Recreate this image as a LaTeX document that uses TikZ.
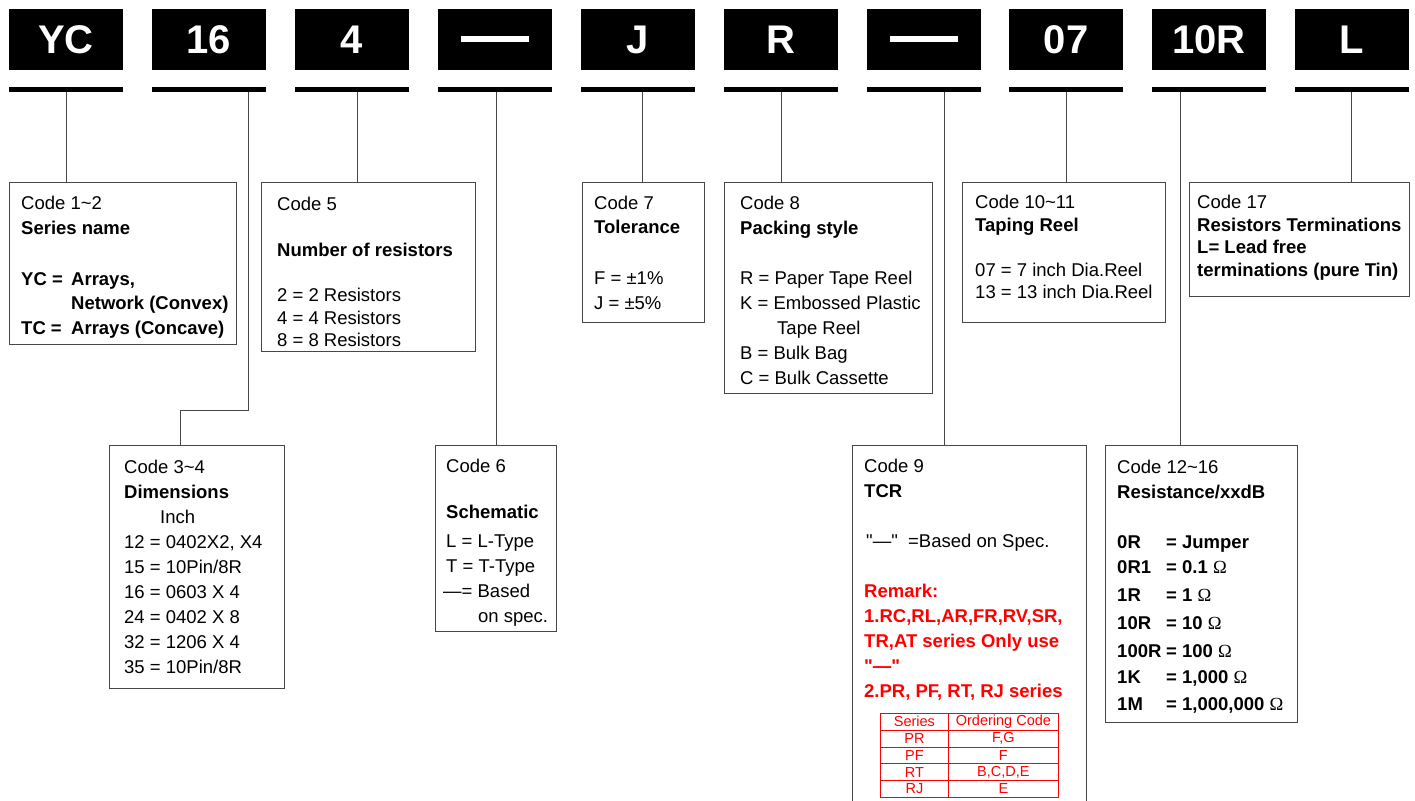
\documentclass[tikz,border=0pt]{standalone}
\usepackage{fontspec}
\setmainfont{Liberation Sans}[Ligatures=TeXOff]
\newfontfamily\omegafont{Liberation Serif}
\newcommand\ohm{{\omegafont\mdseries Ω}}
\newcommand\sq{"}
\begin{document}
\begin{tikzpicture}[x=1pt,y=-1pt,
 topbox/.style={fill=black, text=white, minimum width=114pt, minimum height=61pt, inner sep=0pt, font=\fontsize{40}{40}\selectfont\bfseries},
 bar/.style={fill=black, minimum width=114pt, minimum height=5pt, inner sep=0pt},
 box/.style={draw=black!72, line width=1pt, anchor=north west, inner sep=0pt},
 conn/.style={draw=black!72, line width=1pt},
 tx/.style={anchor=base west, inner sep=0pt, font=\fontsize{18.5}{22}\selectfont},
 bx/.style={tx, font=\fontsize{18.5}{22}\selectfont\bfseries},
 rd/.style={bx, text=red},
 cell/.style={draw=red, line width=0.8pt, text=red, anchor=north west, inner sep=0pt, minimum height=16.8pt, font=\fontsize{14.5}{14.5}\selectfont},
]
\useasboundingbox (0,0) rectangle (1415,800);

% top code boxes
\node[topbox] (t1) at (66,39.5) {YC};
\node[topbox] (t2) at (209,39.5) {16};
\node[topbox] (t3) at (352,39.5) {4};
\node[topbox] (t4) at (495,39.5) {\rule[-3pt]{68pt}{6pt}};
\node[topbox] (t5) at (638,39.5) {J};
\node[topbox] (t6) at (781,39.5) {R};
\node[topbox] (t7) at (923.5,39.5) {\rule[-3pt]{68pt}{6pt}};
\node[topbox] (t8) at (1066,39.5) {07};
\node[topbox] (t9) at (1209,39.5) {10R};
\node[topbox] (t10) at (1352,39.5) {L};

% underline bars
\node[bar] (u1) at (66,89.5) {};
\node[bar] (u2) at (209,89.5) {};
\node[bar] (u3) at (352,89.5) {};
\node[bar] (u4) at (495,89.5) {};
\node[bar] (u5) at (638,89.5) {};
\node[bar] (u6) at (781,89.5) {};
\node[bar] (u7) at (923.5,89.5) {};
\node[bar] (u8) at (1066,89.5) {};
\node[bar] (u9) at (1209,89.5) {};
\node[bar] (u10) at (1352,89.5) {};

% description boxes
\node[box, minimum width=227pt, minimum height=162pt] (c12) at (9,182) {};
\node[box, minimum width=214pt, minimum height=169pt] (c5) at (261,182) {};
\node[box, minimum width=122pt, minimum height=140pt] (c7) at (582,182) {};
\node[box, minimum width=208pt, minimum height=211pt] (c8) at (724,182) {};
\node[box, minimum width=203pt, minimum height=140pt] (c1011) at (962,182) {};
\node[box, minimum width=220pt, minimum height=114pt] (c17) at (1189,182) {};
\node[box, minimum width=175pt, minimum height=243pt] (c34) at (109,445) {};
\node[box, minimum width=121pt, minimum height=186pt] (c6) at (435,445) {};
\node[anchor=north west, inner sep=0pt, minimum width=234pt, minimum height=356pt] (c9) at (852,445) {};
\draw[conn] (c9.south west) -- (c9.north west) -- (c9.north east) -- (c9.south east);
\node[box, minimum width=192pt, minimum height=277pt] (c1216) at (1105,445) {};

% connectors
\draw[conn] (u1.south) -- (u1.south |- c12.north);
\draw[conn] (u2.south -| 248,0) -- (248,410) -| (c34.north -| 180,0);
\draw[conn] (u3.south -| 357,0) -- (c5.north -| 357,0);
\draw[conn] (u4.south -| 496,0) -- (c6.north -| 496,0);
\draw[conn] (u5.south -| 642,0) -- (c7.north -| 642,0);
\draw[conn] (u6.south) -- (u6.south |- c8.north);
\draw[conn] (u7.south -| 944,0) -- (c9.north -| 944,0);
\draw[conn] (u8.south) -- (u8.south |- c1011.north);
\draw[conn] (u9.south -| 1180,0) -- (c1216.north -| 1180,0);
\draw[conn] (u10.south -| 1351,0) -- (c17.north -| 1351,0);

% Code 1~2
\node[tx] (a1) at (21,209) {Code 1\textasciitilde 2};
\node[bx] (a2) at (21,234) {Series name};
\node[bx] (a3) at (21,285) {YC =};
\node[bx] (a3b) at (71,285) {Arrays,};
\node[bx] (a4) at (71,309) {Network (Convex)};
\node[bx] (a5) at (21,334) {TC =};
\node[bx] (a5b) at (71,334) {Arrays (Concave)};

% Code 5
\node[tx] (b1) at (277,210) {Code 5};
\node[bx] (b2) at (277,256) {Number of resistors};
\node[tx] (b3) at (277,301) {2 = 2 Resistors};
\node[tx] (b4) at (277,324) {4 = 4 Resistors};
\node[tx] (b5) at (277,346) {8 = 8 Resistors};

% Code 7
\node[tx] (d1) at (594,209) {Code 7};
\node[bx] (d2) at (594,233) {Tolerance};
\node[tx] (d3) at (594,284) {F = ±1\%};
\node[tx] (d4) at (594,309) {J = ±5\%};

% Code 8
\node[tx] (e1) at (740,209) {Code 8};
\node[bx] (e2) at (740,234) {Packing style};
\node[tx] (e3) at (740,284) {R = Paper Tape Reel};
\node[tx] (e4) at (740,309) {K = Embossed Plastic};
\node[tx] (e5) at (777,334) {Tape Reel};
\node[tx] (e6) at (740,359) {B = Bulk Bag};
\node[tx] (e7) at (740,384) {C = Bulk Cassette};

% Code 10~11
\node[tx] (f1) at (975,208) {Code 10\textasciitilde 11};
\node[bx] (f2) at (975,231) {Taping Reel};
\node[tx] (f3) at (975,276) {07 = 7 inch Dia.Reel};
\node[tx] (f4) at (975,298) {13 = 13 inch Dia.Reel};

% Code 17
\node[tx] (g1) at (1197,208) {Code 17};
\node[bx] (g2) at (1197,231) {Resistors Terminations};
\node[bx] (g3) at (1197,253) {L= Lead free};
\node[bx] (g4) at (1197,276) {terminations (pure Tin)};

% Code 3~4
\node[tx] (h1) at (124,473) {Code 3\textasciitilde 4};
\node[bx] (h2) at (124,498) {Dimensions};
\node[tx] (h3) at (160,523) {Inch};
\node[tx] (h4) at (124,548) {12 = 0402X2, X4};
\node[tx] (h5) at (124,573) {15 = 10Pin/8R};
\node[tx] (h6) at (124,598) {16 = 0603 X 4};
\node[tx] (h7) at (124,623) {24 = 0402 X 8};
\node[tx] (h8) at (124,648) {32 = 1206 X 4};
\node[tx] (h9) at (124,673) {35 = 10Pin/8R};

% Code 6
\node[tx] (k1) at (446,472) {Code 6};
\node[bx] (k2) at (446,518) {Schematic};
\node[tx] (k3) at (446,547) {L = L-Type};
\node[tx] (k4) at (446,572) {T = T-Type};
\node[tx] (k5) at (443,597) {—= Based};
\node[tx] (k6) at (478,622) {on spec.};

% Code 9
\node[tx] (m1) at (864,472) {Code 9};
\node[bx] (m2) at (864,497) {TCR};
\node[tx] (m3) at (866,547) {\sq—\sq\ \ =Based on Spec.};
\node[rd] (m4) at (864,597) {Remark:};
\node[rd] (m5) at (864,622) {1.RC,RL,AR,FR,RV,SR,};
\node[rd] (m6) at (864,647) {TR,AT series Only use};
\node[rd] (m7) at (864,672) {\sq—\sq};
\node[rd] (m8) at (864,697) {2.PR, PF, RT, RJ series};

% table
\foreach \s/\o [count=\i] in {Series/Ordering Code, PR/{F,G}, PF/F, RT/{B,C,D,E}, RJ/E}{
  \node[cell, minimum width=68pt] (ts\i) at (880,{713+16.8*(\i-1)}) {\s};
  \node[cell, minimum width=110pt] (to\i) at (948,{713+16.8*(\i-1)}) {\o};
}

% Code 12~16
\node[tx] (n1) at (1117,473) {Code 12\textasciitilde 16};
\node[bx] (n2) at (1117,498) {Resistance/xxdB};
\node[bx] (n3) at (1117,548) {0R};
\node[bx] (n3b) at (1166,548) {= Jumper};
\node[bx] (n4) at (1117,573) {0R1};
\node[bx] (n4b) at (1166,573) {= 0.1 \ohm};
\node[bx] (n5) at (1117,601) {1R};
\node[bx] (n5b) at (1166,601) {= 1 \ohm};
\node[bx] (n6) at (1117,629) {10R};
\node[bx] (n6b) at (1166,629) {= 10 \ohm};
\node[bx] (n7) at (1117,657) {100R};
\node[bx] (n7b) at (1166,657) {= 100 \ohm};
\node[bx] (n8) at (1117,683) {1K};
\node[bx] (n8b) at (1166,683) {= 1,000 \ohm};
\node[bx] (n9) at (1117,710) {1M};
\node[bx] (n9b) at (1166,710) {= 1,000,000 \ohm};
\end{tikzpicture}
\end{document}
